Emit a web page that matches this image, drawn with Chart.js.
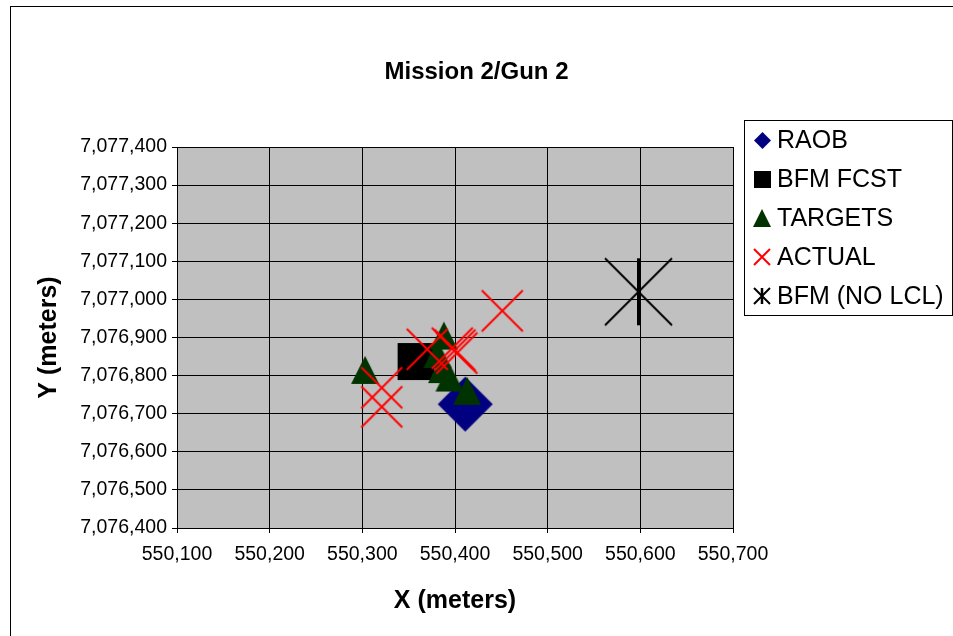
<!DOCTYPE html>
<html>
<head>
<meta charset="utf-8">
<script src="https://cdn.jsdelivr.net/npm/chart.js@4.4.1/dist/chart.umd.min.js"></script>
<style>
  html, body { margin: 0; padding: 0; background: #ffffff; overflow: hidden; }
  #wrap { width: 953px; height: 636px; position: relative; }
</style>
</head>
<body>
<div id="wrap"><canvas id="c" width="953" height="636"></canvas></div>
<script>
// Grid coordinates (meters) for each series
const raobX = [550411];
const raobY = [7076725];

const fcstX = [550358];
const fcstY = [7076837];

const targetX = [550303, 550388, 550381, 550386, 550394, 550413];
const targetY = [7076815, 7076905, 7076857, 7076817, 7076795, 7076760];

const actualX = [550451, 550370, 550397, 550400, 550402, 550321, 550321];
const actualY = [7076970, 7076869, 7076872, 7076867, 7076859, 7076768, 7076718];

const noLclX = [550598];
const noLclY = [7077020];

const seriesNames = ['RAOB', 'BFM FCST', 'TARGETS', 'ACTUAL', 'BFM (NO LCL)'];

const xTickValues = [550100, 550200, 550300, 550400, 550500, 550600, 550700];
const yTickValues = [7076400, 7076500, 7076600, 7076700, 7076800, 7076900, 7077000, 7077100, 7077200, 7077300, 7077400];

const FONT = "'Liberation Sans', Arial, Helvetica, sans-serif";

function pairs(xs, ys) {
  return xs.map((x, i) => ({ x: x, y: ys[i] }));
}

// Marker glyphs rendered to small canvases
function makeMarker(kind, size) {
  const pad = 3;
  const c = document.createElement('canvas');
  const dim = Math.ceil(size + pad * 2);
  c.width = dim; c.height = dim;
  const g = c.getContext('2d');
  const o = pad, s = size, m = dim / 2;
  if (kind === 'diamond') {
    g.fillStyle = '#000080';
    g.beginPath();
    g.moveTo(m, o); g.lineTo(o + s, m); g.lineTo(m, o + s); g.lineTo(o, m);
    g.closePath(); g.fill();
  } else if (kind === 'square') {
    g.fillStyle = '#000000';
    g.fillRect(o, o, s, s);
  } else if (kind === 'triangle') {
    g.fillStyle = '#003300';
    g.beginPath();
    g.moveTo(m, o); g.lineTo(o + s, o + s); g.lineTo(o, o + s);
    g.closePath(); g.fill();
  } else if (kind === 'cross') {
    g.strokeStyle = '#ff0000';
    g.lineWidth = 2;
    g.beginPath();
    g.moveTo(o, o); g.lineTo(o + s, o + s);
    g.moveTo(o + s, o); g.lineTo(o, o + s);
    g.stroke();
  } else if (kind === 'star') {
    g.strokeStyle = '#000000';
    g.lineWidth = 2;
    g.beginPath();
    g.moveTo(o, o); g.lineTo(o + s, o + s);
    g.moveTo(o + s, o); g.lineTo(o, o + s);
    g.stroke();
    g.lineWidth = size > 30 ? 3 : 2.5;
    g.beginPath();
    g.moveTo(m, o); g.lineTo(m, o + s);
    g.stroke();
  }
  return c;
}

const plotMarkers = {
  diamond: makeMarker('diamond', 55),
  square: makeMarker('square', 37),
  triangle: makeMarker('triangle', 28),
  cross: makeMarker('cross', 41),
  star: makeMarker('star', 67)
};
const legendMarkers = [
  makeMarker('diamond', 17),
  makeMarker('square', 17),
  makeMarker('triangle', 18),
  makeMarker('cross', 16),
  makeMarker('star', 16)
];

const AREA = { left: 177, top: 147, right: 733, bottom: 528 };

const frame = {
  id: 'frame',
  beforeDraw(chart) {
    const { ctx, chartArea } = chart;
    ctx.save();
    ctx.fillStyle = '#c0c0c0';
    ctx.fillRect(chartArea.left, chartArea.top, chartArea.right - chartArea.left, chartArea.bottom - chartArea.top);
    ctx.restore();
  },
  afterDraw(chart) {
    const { ctx } = chart;
    ctx.save();
    // outer chart border
    ctx.strokeStyle = '#000000';
    ctx.lineWidth = 1;
    ctx.strokeRect(10.5, 6.5, 1000, 1000);

    // title
    ctx.fillStyle = '#000000';
    ctx.font = 'bold 24px ' + FONT;
    ctx.textAlign = 'center';
    ctx.textBaseline = 'middle';
    ctx.fillText('Mission 2/Gun 2', 476.5, 72);

    // legend
    ctx.strokeStyle = '#000000';
    ctx.strokeRect(744.5, 120.5, 208, 195);
    ctx.font = '25px ' + FONT;
    ctx.textAlign = 'left';
    chart.data.datasets.forEach((ds, i) => {
      const cy = 140 + i * 39;
      const mk = legendMarkers[i];
      ctx.drawImage(mk, Math.round(762 - mk.width / 2), Math.round(cy - mk.height / 2));
      ctx.fillText(ds.label, 777, cy + 1);
    });
    ctx.restore();
  }
};

function tickFmt(v) {
  return Number(v).toLocaleString('en-US');
}

const chart = new Chart(document.getElementById('c'), {
  type: 'scatter',
  data: {
    datasets: [
      { label: seriesNames[0], data: pairs(raobX, raobY), pointStyle: plotMarkers.diamond, pointRadius: 10, order: 5 },
      { label: seriesNames[1], data: pairs(fcstX, fcstY), pointStyle: plotMarkers.square, pointRadius: 10, order: 4 },
      { label: seriesNames[2], data: pairs(targetX, targetY), pointStyle: plotMarkers.triangle, pointRadius: 10, order: 3 },
      { label: seriesNames[3], data: pairs(actualX, actualY), pointStyle: plotMarkers.cross, pointRadius: 10, order: 2 },
      { label: seriesNames[4], data: pairs(noLclX, noLclY), pointStyle: plotMarkers.star, pointRadius: 10, order: 1 }
    ]
  },
  options: {
    responsive: false,
    animation: false,
    events: [],
    layout: { padding: { top: AREA.top, right: 953 - AREA.right, bottom: 0, left: 0 } },
    plugins: {
      legend: { display: false },
      title: { display: false },
      tooltip: { enabled: false }
    },
    scales: {
      x: {
        type: 'linear',
        min: xTickValues[0],
        max: xTickValues[xTickValues.length - 1],
        afterBuildTicks(scale) { scale.ticks = xTickValues.map(v => ({ value: v })); },
        afterFit(scale) { scale.height = 636 - AREA.bottom; },
        ticks: {
          callback: tickFmt,
          font: { family: FONT, size: 19.5 },
          color: '#000000',
          padding: 10,
          maxRotation: 0,
          autoSkip: false
        },
        grid: { color: '#000000', lineWidth: 1, tickLength: 5 },
        border: { color: '#000000', width: 1 },
        title: {
          display: true,
          text: 'X (meters)',
          font: { family: FONT, size: 25, weight: 'bold' },
          color: '#000000',
          padding: { top: 0, bottom: 20 }
        }
      },
      y: {
        type: 'linear',
        min: yTickValues[0],
        max: yTickValues[yTickValues.length - 1],
        afterBuildTicks(scale) { scale.ticks = yTickValues.map(v => ({ value: v })); },
        afterFit(scale) { scale.width = AREA.left; },
        ticks: {
          callback: tickFmt,
          font: { family: FONT, size: 19.5 },
          color: '#000000',
          padding: 5,
          autoSkip: false
        },
        grid: { color: '#000000', lineWidth: 1, tickLength: 5 },
        border: { color: '#000000', width: 1 },
        title: {
          display: true,
          text: 'Y (meters)',
          font: { family: FONT, size: 25, weight: 'bold' },
          color: '#000000',
          padding: { top: 34, bottom: 0 }
        }
      }
    }
  },
  plugins: [frame]
});
</script>
</body>
</html>
